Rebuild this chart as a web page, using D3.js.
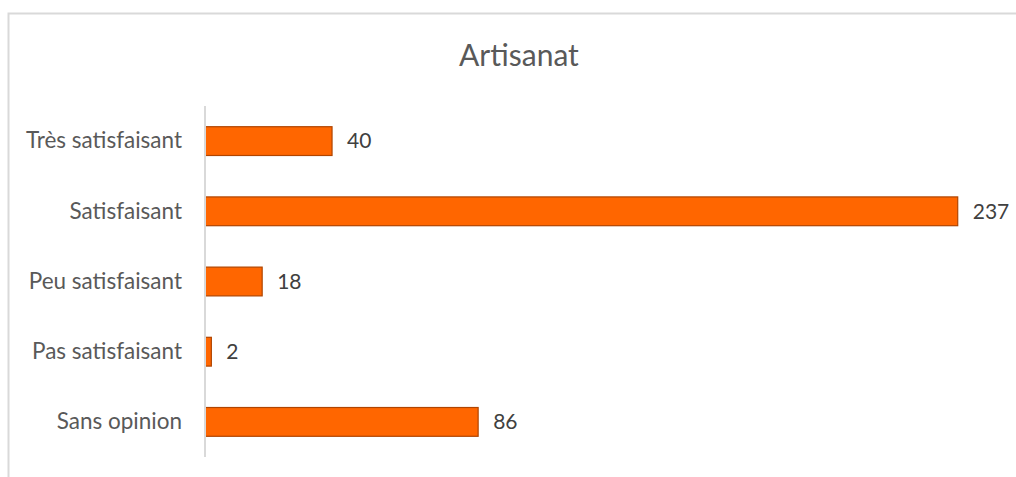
<!DOCTYPE html>
<html>
<head>
<meta charset="utf-8">
<script src="https://cdn.jsdelivr.net/npm/d3@7"></script>
<style>
  html, body { margin: 0; padding: 0; background: #fff; }
  svg { display: block; font-family: Lato, "Open Sans", sans-serif; }
</style>
</head>
<body>
<svg id="chart"></svg>
<script>
// Données
const titre = "Artisanat";
const categories = ["Très satisfaisant", "Satisfaisant", "Peu satisfaisant", "Pas satisfaisant", "Sans opinion"];
const valeurs = [40, 237, 18, 2, 86];

const width = 1016, height = 477;
const plot = { left: 205, right: 999, top: 106, bottom: 457 };

const svg = d3.select('#chart')
  .attr('width', width)
  .attr('height', height);

// Cadre du graphique (déborde à droite et en bas)
svg.append('rect')
  .attr('x', 8.5).attr('y', 13.5)
  .attr('width', width + 10).attr('height', height + 10)
  .attr('fill', 'none')
  .attr('stroke', '#d9d9d9')
  .attr('stroke-width', 2);

// Titre
svg.append('text')
  .attr('x', 519).attr('y', 66)
  .attr('text-anchor', 'middle')
  .attr('font-size', '30px')
  .attr('fill', '#595959')
  .text(titre);

const x = d3.scaleLinear()
  .domain([0, 250])
  .range([plot.left, plot.right]);

const y = d3.scaleBand()
  .domain(categories)
  .range([plot.top, plot.bottom])
  .paddingInner(0.59)
  .paddingOuter(0.295);

// Barres
svg.selectAll('.barre')
  .data(categories)
  .enter()
  .append('rect')
    .attr('class', 'barre')
    .attr('x', x(0))
    .attr('y', d => y(d))
    .attr('width', (d, i) => x(valeurs[i]) - x(0))
    .attr('height', y.bandwidth())
    .attr('fill', '#ff6600')
    .attr('stroke', '#b04500')
    .attr('stroke-width', 1.2);

// Axe vertical (catégories)
const axeY = svg.append('g')
  .attr('transform', `translate(${plot.left},0)`)
  .call(d3.axisLeft(y).tickSize(0).tickPadding(23));
axeY.select('.domain')
  .attr('d', `M0,${plot.top}V${plot.bottom}`)
  .attr('stroke', '#d9d9d9')
  .attr('stroke-width', 2);
axeY.selectAll('text')
  .attr('font-family', 'Lato, "Open Sans", sans-serif')
  .attr('font-size', '22.5px')
  .attr('fill', '#595959');

// Étiquettes de valeurs
svg.selectAll('.valeur')
  .data(categories)
  .enter()
  .append('text')
    .attr('class', 'valeur')
    .attr('x', (d, i) => x(valeurs[i]) + 15)
    .attr('y', d => y(d) + y.bandwidth() / 2)
    .attr('dy', '0.35em')
    .attr('font-size', '21px')
    .attr('fill', '#404040')
    .text((d, i) => valeurs[i]);
</script>
</body>
</html>
